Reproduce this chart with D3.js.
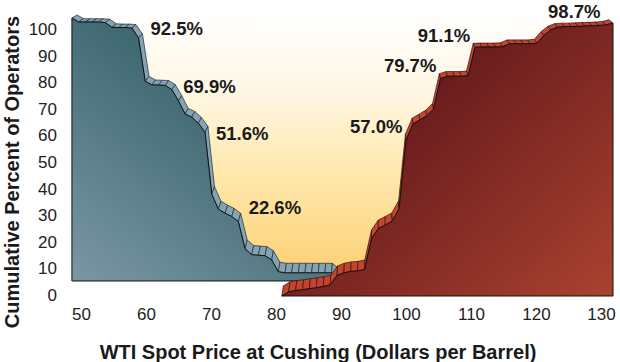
<!DOCTYPE html>
<html>
<head>
<meta charset="utf-8">
<script src="https://cdn.jsdelivr.net/npm/d3@7"></script>
<style>
  body { margin: 0; background: #fff; }
  svg { display: block; }
  text { font-family: "Liberation Sans", Arial, Helvetica, sans-serif; }
</style>
</head>
<body>
<svg id="chart" width="620" height="362"></svg>
<script>
// cumulative percent of operators at every $1
var bluePrices = d3.range(50, 94);
var blueValues = [100, 98.5, 98.5, 98.5, 98.5, 98.3, 96.5, 96.4, 96.4, 96.2,
                  92.5, 76, 74.6, 74.5, 74.4, 72.8, 68.5, 63.5, 62.3, 60,
                  56.5, 33, 27.3, 25.8, 24.5, 22.6, 12.2, 10, 9.8, 9.6,
                  8, 3.5, 3.1, 3.1, 3.1, 3.1, 3.1, 3.1, 3.1, 3.1,
                  1, 0.7, 0.4, 0];
var redPrices = d3.range(82, 131);
var redValues = [0, 1.5, 2, 2.3, 2.7, 3, 3.5, 4, 7.5, 8.5,
                 9, 9.2, 9.7, 21, 24.7, 26, 27.4, 32, 57, 63,
                 64.5, 66, 68.5, 79.7, 80.5, 80.5, 80.5, 80.7, 91.1, 91.2,
                 91.2, 91.2, 91.3, 92.4, 92.4, 92.4, 92.4, 92.6, 95.5, 97.5,
                 98.5, 98.7, 98.7, 98.8, 98.9, 99, 99.1, 99.3, 100];

var xTicks = [50, 60, 70, 80, 90, 100, 110, 120, 130];
var yTicks = [0, 10, 20, 30, 40, 50, 60, 70, 80, 90, 100];

// callouts: which series, price, value, text
var callouts = [
  {series: "blue", price: 60, value: 92.5, text: "92.5%"},
  {series: "blue", price: 65, value: 69.9, text: "69.9%"},
  {series: "blue", price: 70, value: 51.6, text: "51.6%"},
  {series: "blue", price: 75, value: 22.6, text: "22.6%"},
  {series: "red", price: 100, value: 57.0, text: "57.0%"},
  {series: "red", price: 105, value: 79.7, text: "79.7%"},
  {series: "red", price: 110, value: 91.1, text: "91.1%"},
  {series: "red", price: 120, value: 98.7, text: "98.7%", above: true}
];

var svg = d3.select("#chart");
var defs = svg.append("defs");

function linGrad(id, x1, y1, x2, y2, stops) {
  var g = defs.append("linearGradient").attr("id", id)
    .attr("gradientUnits", "userSpaceOnUse")
    .attr("x1", x1).attr("y1", y1).attr("x2", x2).attr("y2", y2);
  stops.forEach(function (s) {
    g.append("stop").attr("offset", s[0]).attr("stop-color", s[1]);
  });
}
linGrad("bg", 0, 10, 0, 281, [[0, "#ffffff"], [0.3, "#fff7e4"], [0.6, "#ffe8ae"], [1, "#fccf70"]]);
linGrad("blueFace", 72, 281, 260, 40, [[0, "#7a97a4"], [1, "#2c5961"]]);
linGrad("redFace", 420, 90, 613, 296, [[0, "#681b1c"], [1, "#aa4230"]]);

// front plane scales, and a simple perspective toward a vanishing point
var xFront = d3.scaleLinear().domain([50, 130]).range([61, 613]);
var yFront = d3.scaleLinear().domain([0, 100]).range([296, 23]);
var vp = [373, -110];
var planes = {
  redFront: [1, 1], redBack: [0.983, 0.975],
  blueFront: [0.965, 0.963], blueBack: [0.9486, 0.939]
};
function project(p, v, plane) {
  var k = planes[plane];
  return [vp[0] + k[0] * (xFront(p) - vp[0]), vp[1] + k[1] * (yFront(v) - vp[1])];
}

// background wall
svg.append("rect").attr("x", 73).attr("y", 0).attr("width", 540).attr("height", 281)
  .attr("fill", "url(#bg)");

function drawSeries(prices, values, front, back, ribbonFill, ribbonStroke, faceFill) {
  var g = svg.append("g");
  var quads = d3.range(prices.length - 1).map(function (i) {
    return [project(prices[i], values[i], front), project(prices[i + 1], values[i + 1], front),
            project(prices[i + 1], values[i + 1], back), project(prices[i], values[i], back)];
  });
  g.selectAll("path.ribbon").data(quads).enter().append("path")
    .attr("class", "ribbon")
    .attr("d", function (q) { return "M" + q.join("L") + "Z"; })
    .attr("fill", ribbonFill)
    .attr("stroke", ribbonStroke)
    .attr("stroke-width", 0.7)
    .attr("stroke-linejoin", "round");

  var pts = [project(prices[0], 0, front)];
  prices.forEach(function (p, i) { pts.push(project(p, values[i], front)); });
  pts.push(project(prices[prices.length - 1], 0, front));
  g.append("path")
    .attr("d", "M" + pts.join("L") + "Z")
    .attr("fill", faceFill)
    .attr("stroke", "#111")
    .attr("stroke-width", 1)
    .attr("stroke-linejoin", "round");
}

drawSeries(bluePrices, blueValues, "blueFront", "blueBack", "#84a3b3", "#1d2d34", "url(#blueFace)");
drawSeries(redPrices, redValues, "redFront", "redBack", "#c4452f", "#3a0d0b", "url(#redFace)");

// callout labels
svg.append("g").selectAll("text").data(callouts).enter().append("text")
  .attr("x", function (d) {
    var pt = project(d.price, d.value, d.series === "blue" ? "blueBack" : "redBack");
    if (d.above) return pt[0] + 7;
    return d.series === "blue" ? pt[0] + 8 : pt[0] - 3;
  })
  .attr("y", function (d) {
    var pt = project(d.price, d.value, d.series === "blue" ? "blueBack" : "redBack");
    if (d.above) return pt[1] - 5.5;
    return d.series === "blue" ? pt[1] + 1 : pt[1] - 1.5;
  })
  .attr("text-anchor", function (d) { return (d.series === "blue" || d.above) ? "start" : "end"; })
  .attr("font-size", 18.5)
  .attr("font-weight", "bold")
  .attr("fill", "#1a1a1a")
  .text(function (d) { return d.text; });

// axes (labels only)
var xLabel = d3.scaleLinear().domain([50, 130]).range([81, 601]);
var yLabel = d3.scaleLinear().domain([0, 100]).range([295, 29]);

var xAxis = svg.append("g").attr("transform", "translate(0,308)")
  .call(d3.axisBottom(xLabel).tickValues(xTicks).tickSize(0).tickPadding(0));
var yAxis = svg.append("g").attr("transform", "translate(57,0)")
  .call(d3.axisLeft(yLabel).tickValues(yTicks).tickSize(0).tickPadding(0));
[xAxis, yAxis].forEach(function (ax) {
  ax.select(".domain").remove();
  ax.attr("font-family", null).attr("font-size", 17);
  ax.selectAll("text").attr("fill", "#222");
});

svg.append("text")
  .attr("x", 318).attr("y", 359)
  .attr("text-anchor", "middle")
  .attr("font-size", 20).attr("font-weight", "bold").attr("fill", "#1a1a1a")
  .text("WTI Spot Price at Cushing (Dollars per Barrel)");

svg.append("text")
  .attr("transform", "translate(18.5,172) rotate(-90)")
  .attr("text-anchor", "middle")
  .attr("font-size", 20).attr("font-weight", "bold").attr("fill", "#1a1a1a")
  .text("Cumulative Percent of Operators");
</script>
</body>
</html>
